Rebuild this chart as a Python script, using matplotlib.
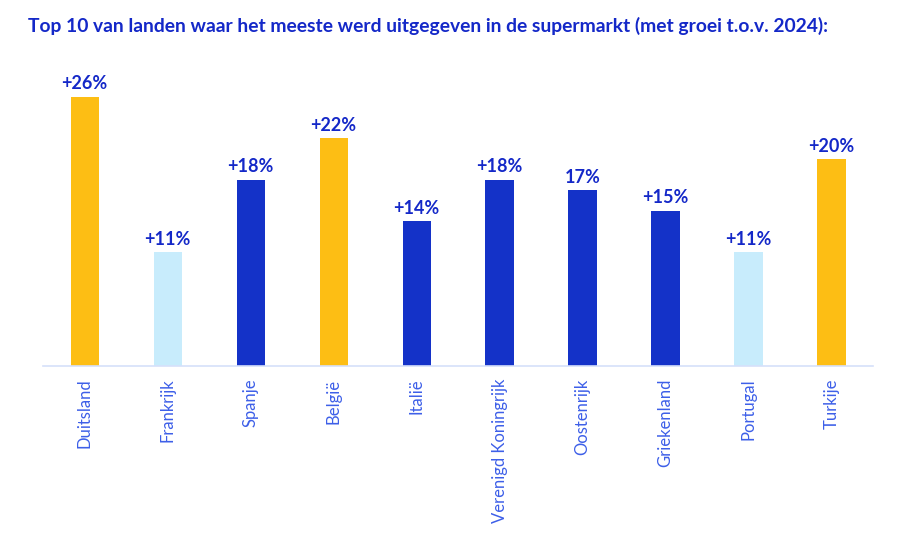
import matplotlib.pyplot as plt

landen = ["Duitsland", "Frankrijk", "Spanje", "België", "Italië",
          "Verenigd Koningrijk", "Oostenrijk", "Griekenland", "Portugal", "Turkije"]
groei = [26, 11, 18, 22, 14, 18, 17, 15, 11, 20]
labels = ["+26%", "+11%", "+18%", "+22%", "+14%", "+18%", "17%", "+15%", "+11%", "+20%"]
kleuren = ["#FDBE14", "#C8ECFC", "#1432C8", "#FDBE14", "#1432C8",
           "#1432C8", "#1432C8", "#1432C8", "#C8ECFC", "#FDBE14"]

titel_kleur = "#1428C8"
tick_kleur = "#3D5FE8"

plt.rcParams['font.family'] = ['Lato', 'DejaVu Sans']

fig = plt.figure(figsize=(9, 5.44), dpi=100)
ax = fig.add_axes([0.048, 0.327, 0.922, 0.563])

x = range(len(landen))
ax.bar(x, groei, width=0.34, color=kleuren)

for i, (v, t) in enumerate(zip(groei, labels)):
    ax.text(i, v + 0.45, t, ha='center', va='bottom', fontsize=13,
            fontweight='bold', color=titel_kleur)

ax.set_xlim(-0.5, len(landen) - 0.5)
ax.set_ylim(0, 29.6)
ax.set_xticks(list(x))
ax.set_xticklabels(landen, rotation=90, fontsize=12, color=tick_kleur)
ax.tick_params(axis='x', length=0, pad=9)
ax.set_yticks([])
for s in ['top', 'right', 'left']:
    ax.spines[s].set_visible(False)
ax.spines['bottom'].set_color('#D6E0FA')
ax.spines['bottom'].set_linewidth(1.2)

fig.text(0.031, 0.953, "Top 10 van landen waar het meeste werd uitgegeven in de supermarkt (met groei t.o.v. 2024):",
         ha='left', va='center', fontsize=13.9, fontweight='bold', color=titel_kleur)

plt.savefig("out.png", dpi=100)
